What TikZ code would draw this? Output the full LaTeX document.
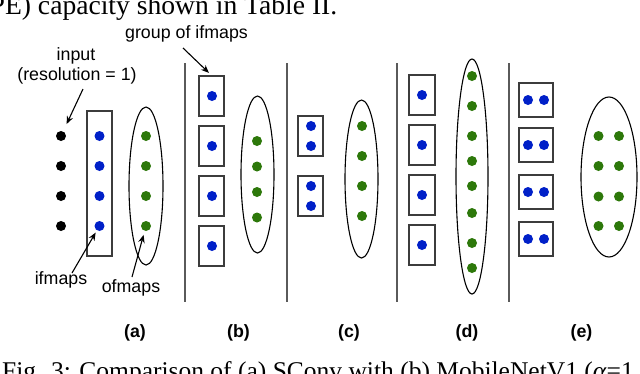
\documentclass[tikz,border=0pt]{standalone}
\usepackage{fontspec}
\usetikzlibrary{shapes.geometric,arrows.meta}
\newfontfamily\diagsans{Liberation Sans}
\newfontfamily\diagserif{Liberation Serif}
\newcommand\diaglbl{\diagsans\fontsize{17.8bp}{21bp}\selectfont}
\newcommand\diagsub{\diagsans\bfseries\fontsize{17.8bp}{21bp}\selectfont}
\newcommand\diagcap{\diagserif\fontsize{25.5bp}{30bp}\selectfont}
\newcommand\diagtop{\diagserif\fontsize{27.6bp}{32bp}\selectfont}
\definecolor{dotblue}{RGB}{0,32,200}
\definecolor{dotgreen}{RGB}{45,120,10}
\definecolor{boxgray}{RGB}{60,60,60}
\definecolor{sepgray}{RGB}{90,90,90}
\tikzset{
  lbl/.style={font=\diaglbl, inner sep=0pt, anchor=base},
  sub/.style={font=\diagsub, inner sep=0pt, anchor=base},
  captxt/.style={font=\diagcap, inner sep=0pt, anchor=base west},
  grpbox/.style={draw=boxgray, line width=1.3bp, inner sep=0pt, minimum width=25bp, minimum height=40bp},
  ofm/.style={draw=black, ellipse, line width=1.1bp, inner sep=0pt},
  sepline/.style={draw=sepgray, line width=1.6bp},
  bdot/.style={circle, fill=dotblue, inner sep=0pt, minimum size=10bp},
  gdot/.style={circle, fill=dotgreen, inner sep=0pt, minimum size=10bp},
  kdot/.style={circle, fill=black, inner sep=0pt, minimum size=10bp},
  arr/.style={-{Stealth[length=8bp,width=6.5bp]}, line width=1.1bp}
}
\begin{document}
\begin{tikzpicture}[x=1bp,y=-1bp]
\useasboundingbox (0,0) rectangle (640,373);
\clip (0,0) rectangle (640,373);
\fill[white] (0,0) rectangle (640,373);

% surrounding caption text (cropped)
\node[captxt, font=\diagtop] (toptext) at (-10.5,14) {PE) capacity shown in Table II.};
\node[captxt] (bottext) at (2,379) {Fig. 3: Comparison of (a) SConv with (b) MobileNetV1 (\textit{α}=1};

% separators
\draw[sepline] (185,63) -- (185,302);
\draw[sepline] (287,63) -- (287,302);
\draw[sepline] (397,63) -- (397,302);
\draw[sepline] (509,63) -- (509,302);

% ---------- (a) ----------
\node[grpbox, minimum height=145bp] (ra) at (99.5,183.5) {};
\node[ofm, minimum width=34bp, minimum height=158bp] (ea) at (146,186) {};
\foreach \i/\y in {1/136,2/166,3/196,4/226}{
  \node[kdot] (k\i) at (61,\y) {};
  \node[bdot] (ab\i) at (99.5,\y) {};
  \node[gdot] (ag\i) at (146,\y) {};
}

% ---------- (b) ----------
\foreach \i/\y in {1/96,2/146,3/196,4/246}{
  \node[grpbox] (bb\i) at (211.5,\y) {};
  \node[bdot] (bbd\i) at (212,\y) {};
}
\node[ofm, minimum width=33bp, minimum height=157bp] (eb) at (257.5,174.5) {};
\foreach \i/\y in {1/141,2/166.5,3/192,4/217.5}{
  \node[gdot] (bg\i) at (257,\y) {};
}

% ---------- (c) ----------
\node[grpbox] (cb1) at (310.5,136) {};
\node[grpbox] (cb2) at (310.5,196) {};
\foreach \i/\y in {1/126,2/146,3/186,4/206}{
  \node[bdot] (cbd\i) at (311,\y) {};
}
\node[ofm, minimum width=33bp, minimum height=158bp] (ec) at (361.5,179) {};
\foreach \i/\y in {1/126,2/156,3/186,4/216}{
  \node[gdot] (cg\i) at (362,\y) {};
}

% ---------- (d) ----------
\foreach \i/\y in {1/95,2/145,3/195,4/245}{
  \node[grpbox, minimum width=26bp] (db\i) at (422,\y) {};
  \node[bdot] (dbd\i) at (422,\y) {};
}
\node[ofm, minimum width=32bp, minimum height=235bp] (ed) at (472,176.5) {};
\foreach \i/\y in {1/76,2/106,3/136,4/161,5/186,6/213,7/243,8/268}{
  \node[gdot] (dg\i) at (472,\y) {};
}

% ---------- (e) ----------
\foreach \i/\y in {1/100,2/145,3/192,4/239}{
  \node[grpbox, minimum width=34bp, minimum height=34bp] (eb\i) at (536,\y) {};
  \node[bdot] (ebl\i) at (528,\y) {};
  \node[bdot] (ebr\i) at (544,\y) {};
}
\node[ofm, minimum width=56bp, minimum height=160bp] (ee) at (609,177) {};
\foreach \i/\y in {1/136,2/166,3/196.5,4/226}{
  \node[gdot] (egl\i) at (598.5,\y) {};
  \node[gdot] (egr\i) at (619,\y) {};
}

% ---------- labels ----------
\node[lbl] (grp) at (186.5,38) {group of ifmaps};
\node[lbl] (inp) at (76,60) {input};
\node[lbl] (res) at (77,80) {(resolution = 1)};
\node[lbl] (ifm) at (61,284) {ifmaps};
\node[lbl] (ofmlbl) at (131,292) {ofmaps};
\node[sub] (la) at (135,337) {(a)};
\node[sub] (lb) at (238.5,337) {(b)};
\node[sub] (lc) at (349,337) {(c)};
\node[sub] (ld) at (467,337) {(d)};
\node[sub] (le) at (581.5,337) {(e)};

% ---------- arrows ----------
\coordinate (inT) at (83,89);
\coordinate (grpT) at (183,48);
\coordinate (ifmT) at (72,273);
\coordinate (ofmT) at (132,277);
\draw[arr, shorten >=8bp] (inT) -- (k1);
\draw[arr, shorten >=3.5bp] (grpT) -- (bb1.north);
\draw[arr, shorten >=2.4bp] (ifmT) -- (ab4);
\draw[arr, shorten >=4bp] (ofmT) -- (ag4);
\end{tikzpicture}
\end{document}
